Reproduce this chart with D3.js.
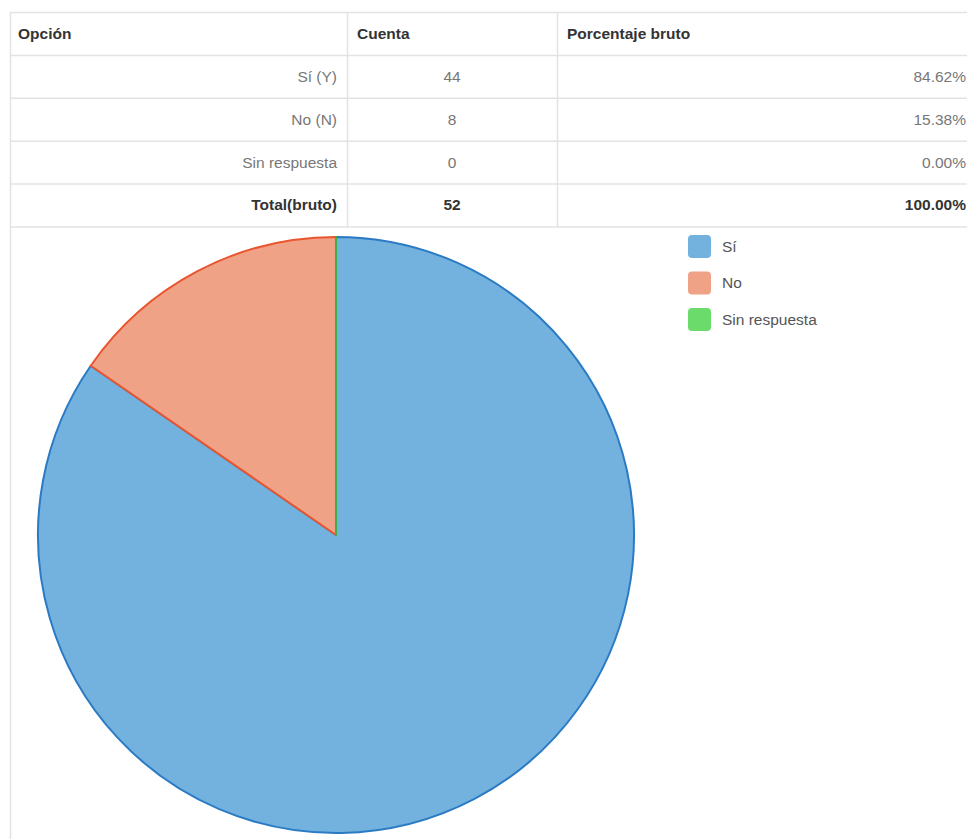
<!DOCTYPE html>
<html>
<head>
<meta charset="utf-8">
<script src="https://cdn.jsdelivr.net/npm/d3@7"></script>
<style>
html,body{margin:0;padding:0;background:#fff;overflow:hidden;}
svg{display:block;font-family:"Liberation Sans",Arial,Helvetica,sans-serif;}
</style>
</head>
<body>
<svg id="c" width="967" height="839"></svg>
<script>
// ---- data ----
const headers = ["Opción", "Cuenta", "Porcentaje bruto"];
const optionLabels = ["Sí (Y)", "No (N)", "Sin respuesta"];
const counts = [44, 8, 0];
const percents = ["84.62%", "15.38%", "0.00%"];
const totalLabel = "Total(bruto)";
const totalCount = 52;
const totalPercent = "100.00%";
const legendLabels = ["Sí", "No", "Sin respuesta"];
const fills = ["#73b2de", "#f0a286", "#6bdb6b"];
const strokes = ["#2b7bc4", "#e8552e", "#3cb043"];

const svg = d3.select("#c");

// ---- table ----
const tableTop = 12, rowH = 43, left = 10;
const colX = [10, 347, 557, 967];
const nRows = 5;
const rowY = d3.range(nRows + 1).map(i => tableTop + i * rowH - (i > 0 ? 0.5 * i / nRows : 0));
const gridColor = "#e3e3e3";

const g = svg.append("g");
// horizontal lines
g.selectAll("line.h").data(rowY).join("line")
  .attr("x1", left).attr("x2", 967)
  .attr("y1", d => d + 0.5).attr("y2", d => d + 0.5)
  .attr("stroke", gridColor).attr("stroke-width", 1.5);
// column dividers
g.selectAll("line.v").data([colX[1], colX[2]]).join("line")
  .attr("x1", d => d + 0.5).attr("x2", d => d + 0.5)
  .attr("y1", tableTop).attr("y2", rowY[nRows])
  .attr("stroke", gridColor).attr("stroke-width", 1.5);
// panel left border
g.append("line").attr("x1", left + 0.5).attr("x2", left + 0.5)
  .attr("y1", tableTop).attr("y2", 839)
  .attr("stroke", gridColor).attr("stroke-width", 1.5);

const midY = i => (rowY[i] + rowY[i + 1]) / 2;
// header
const hx = [18, 357, 567];
headers.forEach((h, i) => {
  g.append("text").attr("x", hx[i]).attr("y", midY(0)).attr("dy", "0.35em")
    .attr("font-size", 15.5).attr("font-weight", "bold").attr("fill", "#333").text(h);
});
// body rows
const rows = optionLabels.map((l, i) => ({label: l, count: counts[i], pct: percents[i], bold: false}))
  .concat([{label: totalLabel, count: totalCount, pct: totalPercent, bold: true}]);
rows.forEach((r, i) => {
  const y = midY(i + 1);
  const col = r.bold ? "#333" : "#777";
  const fw = r.bold ? "bold" : "normal";
  g.append("text").attr("x", 337).attr("y", y).attr("dy", "0.35em").attr("text-anchor", "end")
    .attr("font-size", 15.5).attr("font-weight", fw).attr("fill", col).text(r.label);
  g.append("text").attr("x", (colX[1] + colX[2]) / 2).attr("y", y).attr("dy", "0.35em").attr("text-anchor", "middle")
    .attr("font-size", 15.5).attr("font-weight", fw).attr("fill", col).text(r.count);
  g.append("text").attr("x", 966).attr("y", y).attr("dy", "0.35em").attr("text-anchor", "end")
    .attr("font-size", 15.5).attr("font-weight", fw).attr("fill", col).text(r.pct);
});

// ---- pie ----
const cx = 336, cy = 535, R = 298;
const pie = d3.pie().sort(null).value(d => d)(counts);
const arc = d3.arc().innerRadius(0).outerRadius(R);
const pg = svg.append("g").attr("transform", `translate(${cx},${cy})`);
pg.selectAll("path").data(pie).join("path")
  .attr("d", arc)
  .attr("fill", (d, i) => fills[i])
  .attr("stroke", (d, i) => strokes[i])
  .attr("stroke-width", 2)
  .attr("stroke-linejoin", "round");
// zero-value slice draws as a line at its start angle
pie.forEach((d, i) => {
  if (d.value === 0) {
    const a = d.startAngle;
    pg.append("line").attr("x1", 0).attr("y1", 0)
      .attr("x2", R * Math.sin(a)).attr("y2", -R * Math.cos(a))
      .attr("stroke", strokes[i]).attr("stroke-width", 2);
  }
});

// ---- legend ----
const lg = svg.append("g");
const ly = d3.scaleBand().domain(legendLabels).range([235, 235 + 36.5 * 3]);
legendLabels.forEach((l, i) => {
  const y = ly(l);
  lg.append("rect").attr("x", 688).attr("y", y).attr("width", 23).attr("height", 23)
    .attr("rx", 4).attr("fill", fills[i]);
  lg.append("text").attr("x", 722).attr("y", y + 11.5).attr("dy", "0.35em")
    .attr("font-size", 15.5).attr("fill", "#555").text(l);
});
</script>
</body>
</html>
